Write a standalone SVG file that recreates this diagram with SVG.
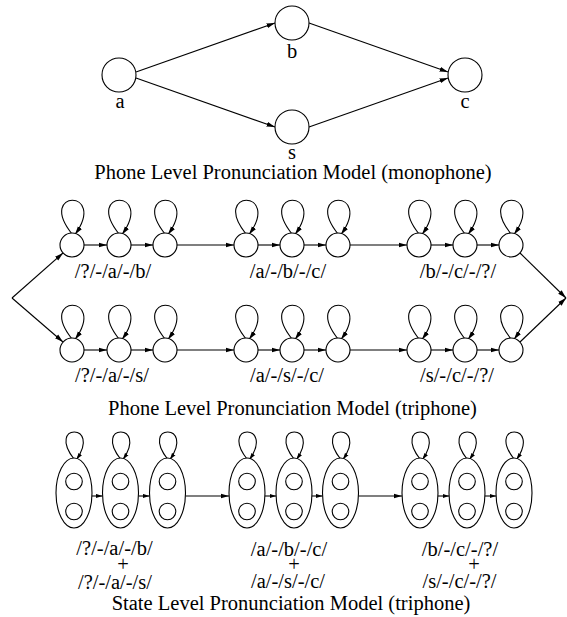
<svg xmlns="http://www.w3.org/2000/svg" width="567" height="617" viewBox="0 0 567 617">
  <style>
    .n { fill: #fff; stroke: #000; stroke-width: 1.1; }
    .e { fill: none; stroke: #000; stroke-width: 1.1; }
    .t { font-family: 'Liberation Serif', 'Times New Roman', serif; font-size: 20.5px; fill: #000; text-anchor: middle; }
  </style>
  <defs>
    <marker id="arr" markerWidth="9" markerHeight="6" refX="8.5" refY="3" orient="auto" markerUnits="userSpaceOnUse">
      <path d="M0,0.5 L8.5,3 L0,5.5 Z" fill="#000"/>
    </marker>
    <marker id="arrs" markerWidth="7" markerHeight="5" refX="6.5" refY="2.5" orient="auto" markerUnits="userSpaceOnUse">
      <path d="M0,0.4 L6.5,2.5 L0,4.6 Z" fill="#000"/>
    </marker>
    <!-- self loops drawn relative to the node top -->
    <path id="loop" d="M0,1 C-36,-44 36,-44 3,1.5"/>
    <path id="loopS" d="M0,1 C-28,-35 28,-35 2.5,1.5"/>
  </defs>

  <rect width="567" height="617" fill="#fff"/>

  <!-- ===== monophone network ===== -->
  <g id="edges-mono">
    <line class="e" x1="136" y1="72" x2="275" y2="23" marker-end="url(#arr)"/>
    <line class="e" x1="136" y1="78" x2="275" y2="127" marker-end="url(#arr)"/>
    <line class="e" x1="309" y1="23" x2="448" y2="72" marker-end="url(#arr)"/>
    <line class="e" x1="309" y1="127" x2="448" y2="78" marker-end="url(#arr)"/>
  </g>
  <g id="node-a"><circle class="n" cx="119" cy="75" r="17"/><text class="t" x="120" y="108">a</text></g>
  <g id="node-b"><circle class="n" cx="292" cy="23" r="17"/><text class="t" x="292" y="58">b</text></g>
  <g id="node-s"><circle class="n" cx="292" cy="127" r="17"/><text class="t" x="292" y="159">s</text></g>
  <g id="node-c"><circle class="n" cx="465" cy="75" r="17"/><text class="t" x="465" y="108">c</text></g>
  <text class="t" x="293" y="179">Phone Level Pronunciation Model (monophone)</text>

  <!-- ===== phone-level triphone network ===== -->
  <g id="edges-tri">
    <!-- split / merge -->
    <line class="e" x1="12" y1="298" x2="63" y2="253" marker-end="url(#arr)"/>
    <line class="e" x1="12" y1="298" x2="63" y2="342" marker-end="url(#arr)"/>
    <line class="e" x1="520" y1="253" x2="566" y2="298" marker-end="url(#arr)"/>
    <line class="e" x1="520" y1="342" x2="566" y2="298" marker-end="url(#arr)"/>
    <!-- row 1 -->
    <line class="e" x1="84" y1="245" x2="107" y2="245" marker-end="url(#arr)"/>
    <line class="e" x1="131" y1="245" x2="153" y2="245" marker-end="url(#arr)"/>
    <line class="e" x1="177" y1="245" x2="234" y2="245" marker-end="url(#arr)"/>
    <line class="e" x1="258" y1="245" x2="280" y2="245" marker-end="url(#arr)"/>
    <line class="e" x1="304" y1="245" x2="326" y2="245" marker-end="url(#arr)"/>
    <line class="e" x1="350" y1="245" x2="407" y2="245" marker-end="url(#arr)"/>
    <line class="e" x1="431" y1="245" x2="453" y2="245" marker-end="url(#arr)"/>
    <line class="e" x1="477" y1="245" x2="499" y2="245" marker-end="url(#arr)"/>
    <!-- row 2 -->
    <line class="e" x1="84" y1="350" x2="107" y2="350" marker-end="url(#arr)"/>
    <line class="e" x1="131" y1="350" x2="153" y2="350" marker-end="url(#arr)"/>
    <line class="e" x1="177" y1="350" x2="234" y2="350" marker-end="url(#arr)"/>
    <line class="e" x1="258" y1="350" x2="280" y2="350" marker-end="url(#arr)"/>
    <line class="e" x1="304" y1="350" x2="326" y2="350" marker-end="url(#arr)"/>
    <line class="e" x1="350" y1="350" x2="407" y2="350" marker-end="url(#arr)"/>
    <line class="e" x1="431" y1="350" x2="453" y2="350" marker-end="url(#arr)"/>
    <line class="e" x1="477" y1="350" x2="499" y2="350" marker-end="url(#arr)"/>
    <!-- self loops, row 1 -->
    <use href="#loop" class="e" x="72" y="233" marker-end="url(#arr)"/>
    <use href="#loop" class="e" x="119" y="233" marker-end="url(#arr)"/>
    <use href="#loop" class="e" x="165" y="233" marker-end="url(#arr)"/>
    <use href="#loop" class="e" x="246" y="233" marker-end="url(#arr)"/>
    <use href="#loop" class="e" x="292" y="233" marker-end="url(#arr)"/>
    <use href="#loop" class="e" x="338" y="233" marker-end="url(#arr)"/>
    <use href="#loop" class="e" x="419" y="233" marker-end="url(#arr)"/>
    <use href="#loop" class="e" x="465" y="233" marker-end="url(#arr)"/>
    <use href="#loop" class="e" x="511" y="233" marker-end="url(#arr)"/>
    <!-- self loops, row 2 -->
    <use href="#loop" class="e" x="72" y="338" marker-end="url(#arr)"/>
    <use href="#loop" class="e" x="119" y="338" marker-end="url(#arr)"/>
    <use href="#loop" class="e" x="165" y="338" marker-end="url(#arr)"/>
    <use href="#loop" class="e" x="246" y="338" marker-end="url(#arr)"/>
    <use href="#loop" class="e" x="292" y="338" marker-end="url(#arr)"/>
    <use href="#loop" class="e" x="338" y="338" marker-end="url(#arr)"/>
    <use href="#loop" class="e" x="419" y="338" marker-end="url(#arr)"/>
    <use href="#loop" class="e" x="465" y="338" marker-end="url(#arr)"/>
    <use href="#loop" class="e" x="511" y="338" marker-end="url(#arr)"/>
  </g>

  <g id="tri-abq">
    <circle class="n" cx="72" cy="245" r="12"/><circle class="n" cx="119" cy="245" r="12"/><circle class="n" cx="165" cy="245" r="12"/>
    <text class="t" x="113" y="278">/?/-/a/-/b/</text>
  </g>
  <g id="tri-abc">
    <circle class="n" cx="246" cy="245" r="12"/><circle class="n" cx="292" cy="245" r="12"/><circle class="n" cx="338" cy="245" r="12"/>
    <text class="t" x="288" y="278">/a/-/b/-/c/</text>
  </g>
  <g id="tri-bcq">
    <circle class="n" cx="419" cy="245" r="12"/><circle class="n" cx="465" cy="245" r="12"/><circle class="n" cx="511" cy="245" r="12"/>
    <text class="t" x="458" y="278">/b/-/c/-/?/</text>
  </g>
  <g id="tri-aqs">
    <circle class="n" cx="72" cy="350" r="12"/><circle class="n" cx="119" cy="350" r="12"/><circle class="n" cx="165" cy="350" r="12"/>
    <text class="t" x="112" y="382">/?/-/a/-/s/</text>
  </g>
  <g id="tri-asc">
    <circle class="n" cx="246" cy="350" r="12"/><circle class="n" cx="292" cy="350" r="12"/><circle class="n" cx="338" cy="350" r="12"/>
    <text class="t" x="287" y="382">/a/-/s/-/c/</text>
  </g>
  <g id="tri-scq">
    <circle class="n" cx="419" cy="350" r="12"/><circle class="n" cx="465" cy="350" r="12"/><circle class="n" cx="511" cy="350" r="12"/>
    <text class="t" x="457" y="382">/s/-/c/-/?/</text>
  </g>
  <text class="t" x="292.5" y="415">Phone Level Pronunciation Model (triphone)</text>

  <!-- ===== state-level triphone network ===== -->
  <g id="edges-state">
    <line class="e" x1="92" y1="496" x2="102.5" y2="496" marker-end="url(#arrs)"/>
    <line class="e" x1="138.5" y1="496" x2="149.5" y2="496" marker-end="url(#arrs)"/>
    <line class="e" x1="185.5" y1="496" x2="229" y2="496" marker-end="url(#arr)"/>
    <line class="e" x1="265" y1="496" x2="276" y2="496" marker-end="url(#arrs)"/>
    <line class="e" x1="312" y1="496" x2="322.5" y2="496" marker-end="url(#arrs)"/>
    <line class="e" x1="358.5" y1="496" x2="402" y2="496" marker-end="url(#arr)"/>
    <line class="e" x1="438" y1="496" x2="449" y2="496" marker-end="url(#arrs)"/>
    <line class="e" x1="485" y1="496" x2="496" y2="496" marker-end="url(#arrs)"/>
    <!-- self loops -->
    <use href="#loopS" class="e" x="74" y="458" marker-end="url(#arrs)"/>
    <use href="#loopS" class="e" x="120.5" y="458" marker-end="url(#arrs)"/>
    <use href="#loopS" class="e" x="167.5" y="458" marker-end="url(#arrs)"/>
    <use href="#loopS" class="e" x="247" y="458" marker-end="url(#arrs)"/>
    <use href="#loopS" class="e" x="294" y="458" marker-end="url(#arrs)"/>
    <use href="#loopS" class="e" x="340.5" y="458" marker-end="url(#arrs)"/>
    <use href="#loopS" class="e" x="420" y="458" marker-end="url(#arrs)"/>
    <use href="#loopS" class="e" x="467" y="458" marker-end="url(#arrs)"/>
    <use href="#loopS" class="e" x="514" y="458" marker-end="url(#arrs)"/>
  </g>

  <g id="state-g1">
    <ellipse class="n" cx="74" cy="493" rx="18" ry="35"/><circle class="n" cx="74" cy="481.5" r="8.3"/><circle class="n" cx="74" cy="511.5" r="8.3"/>
    <ellipse class="n" cx="120.5" cy="493" rx="18" ry="35"/><circle class="n" cx="120.5" cy="481.5" r="8.3"/><circle class="n" cx="120.5" cy="511.5" r="8.3"/>
    <ellipse class="n" cx="167.5" cy="493" rx="18" ry="35"/><circle class="n" cx="167.5" cy="481.5" r="8.3"/><circle class="n" cx="167.5" cy="511.5" r="8.3"/>
    <text class="t" x="114.5" y="555">/?/-/a/-/b/</text>
    <text class="t" x="123" y="571">+</text>
    <text class="t" x="115" y="589">/?/-/a/-/s/</text>
  </g>
  <g id="state-g2">
    <ellipse class="n" cx="247" cy="493" rx="18" ry="35"/><circle class="n" cx="247" cy="481.5" r="8.3"/><circle class="n" cx="247" cy="511.5" r="8.3"/>
    <ellipse class="n" cx="294" cy="493" rx="18" ry="35"/><circle class="n" cx="294" cy="481.5" r="8.3"/><circle class="n" cx="294" cy="511.5" r="8.3"/>
    <ellipse class="n" cx="340.5" cy="493" rx="18" ry="35"/><circle class="n" cx="340.5" cy="481.5" r="8.3"/><circle class="n" cx="340.5" cy="511.5" r="8.3"/>
    <text class="t" x="289" y="556">/a/-/b/-/c/</text>
    <text class="t" x="294" y="571">+</text>
    <text class="t" x="288" y="588">/a/-/s/-/c/</text>
  </g>
  <g id="state-g3">
    <ellipse class="n" cx="420" cy="493" rx="18" ry="35"/><circle class="n" cx="420" cy="481.5" r="8.3"/><circle class="n" cx="420" cy="511.5" r="8.3"/>
    <ellipse class="n" cx="467" cy="493" rx="18" ry="35"/><circle class="n" cx="467" cy="481.5" r="8.3"/><circle class="n" cx="467" cy="511.5" r="8.3"/>
    <ellipse class="n" cx="514" cy="493" rx="18" ry="35"/><circle class="n" cx="514" cy="481.5" r="8.3"/><circle class="n" cx="514" cy="511.5" r="8.3"/>
    <text class="t" x="460" y="556">/b/-/c/-/?/</text>
    <text class="t" x="474" y="571">+</text>
    <text class="t" x="459.5" y="588">/s/-/c/-/?/</text>
  </g>
  <text class="t" x="291" y="610">State Level Pronunciation Model (triphone)</text>
</svg>
